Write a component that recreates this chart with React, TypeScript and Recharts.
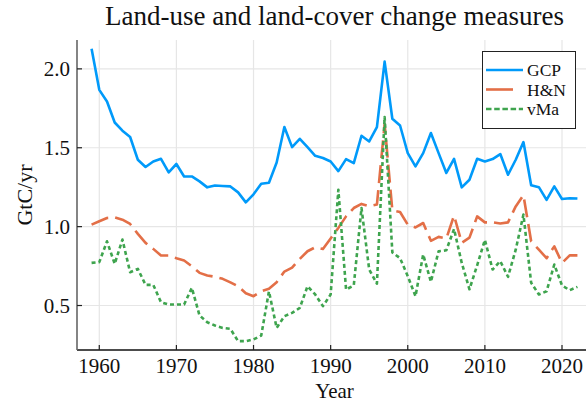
import { CartesianGrid, Label, Legend, Line, LineChart, XAxis, YAxis } from "recharts";

const years = [
  1959, 1960, 1961, 1962, 1963, 1964, 1965, 1966, 1967, 1968, 1969, 1970, 1971, 1972, 1973, 1974,
  1975, 1976, 1977, 1978, 1979, 1980, 1981, 1982, 1983, 1984, 1985, 1986, 1987, 1988, 1989, 1990,
  1991, 1992, 1993, 1994, 1995, 1996, 1997, 1998, 1999, 2000, 2001, 2002, 2003, 2004, 2005, 2006,
  2007, 2008, 2009, 2010, 2011, 2012, 2013, 2014, 2015, 2016, 2017, 2018, 2019, 2020, 2021, 2022,
];

const gcp = [
  2.127, 1.867, 1.793, 1.66, 1.608, 1.568, 1.424, 1.378, 1.413, 1.43, 1.344, 1.397, 1.318, 1.318, 1.287, 1.249,
  1.261, 1.258, 1.255, 1.217, 1.154, 1.205, 1.272, 1.278, 1.407, 1.631, 1.504, 1.557, 1.504, 1.449, 1.435, 1.413,
  1.352, 1.428, 1.403, 1.576, 1.54, 1.631, 2.046, 1.684, 1.641, 1.466, 1.382, 1.466, 1.593, 1.466, 1.34, 1.43,
  1.249, 1.297, 1.43, 1.413, 1.428, 1.46, 1.329, 1.424, 1.536, 1.262, 1.25, 1.17, 1.255, 1.175, 1.18, 1.178,
];

const hn = [
  1.013, 1.034, 1.055, 1.059, 1.044, 1.017, 0.954, 0.897, 0.859, 0.817, 0.817, 0.8, 0.785, 0.749, 0.707, 0.69,
  0.682, 0.669, 0.647, 0.622, 0.578, 0.559, 0.59, 0.606, 0.648, 0.715, 0.74, 0.795, 0.844, 0.869, 0.858, 0.925,
  0.992, 1.065, 1.118, 1.144, 1.13, 1.14, 1.65, 1.103, 1.093, 1.013, 0.995, 1.023, 0.91, 0.935, 0.925, 1.07,
  0.897, 0.93, 1.065, 1.027, 1.027, 1.02, 1.027, 1.128, 1.2, 0.907, 0.854, 0.8, 0.875, 0.77, 0.818, 0.818,
];

const vma = [
  0.77, 0.775, 0.907, 0.764, 0.918, 0.711, 0.732, 0.631, 0.631, 0.521, 0.506, 0.506, 0.506, 0.612, 0.437, 0.394,
  0.373, 0.358, 0.352, 0.274, 0.274, 0.285, 0.31, 0.59, 0.358, 0.432, 0.453, 0.485, 0.622, 0.57, 0.496, 0.57,
  1.234, 0.601, 0.627, 1.118, 0.728, 0.639, 1.695, 0.837, 0.8, 0.686, 0.559, 0.823, 0.65, 0.844, 0.85, 0.985,
  0.77, 0.603, 0.755, 0.916, 0.728, 0.781, 0.682, 0.854, 1.076, 0.644, 0.57, 0.59, 0.76, 0.627, 0.597, 0.618,
];

const xTicks = [1960, 1970, 1980, 1990, 2000, 2010, 2020];
const yTicks = [0.5, 1.0, 1.5, 2.0];

const data = years.map((year, i) => ({ year, GCP: gcp[i], "H&N": hn[i], vMa: vma[i] }));

const FONT = "'Liberation Serif', 'DejaVu Serif', serif";
const BLUE = "#009AFA";
const ORANGE = "#E36F47";
const GREEN = "#3EA44E";

// ticks point into the plot, labels sit outside
function XTick(props: any) {
  const { x, y, payload } = props;
  return (
    <g>
      <line x1={x} x2={x} y1={y} y2={y - 5} stroke="#222" strokeWidth={1.2} />
      <text x={x} y={y + 23} textAnchor="middle" fontFamily={FONT} fontSize={21} fill="#111">
        {payload.value}
      </text>
    </g>
  );
}

function YTick(props: any) {
  const { x, y, payload } = props;
  return (
    <g>
      <line x1={x} x2={x + 5} y1={y} y2={y} stroke="#222" strokeWidth={1.2} />
      <text x={x - 7} y={y + 7} textAnchor="end" fontFamily={FONT} fontSize={21} fill="#111">
        {Number(payload.value).toFixed(1)}
      </text>
    </g>
  );
}

function LegendBox() {
  const rows = [
    { name: "GCP", color: BLUE, dash: undefined, end: 41 },
    { name: "H&N", color: ORANGE, dash: undefined, end: 31 },
    { name: "vMa", color: GREEN, dash: "5.5 2.7", end: 41 },
  ];
  return (
    <svg width={94} height={78} style={{ display: "block" }}>
      <rect x={0.5} y={0.5} width={93} height={77} fill="#fff" stroke="#222" strokeWidth={1} />
      {rows.map((r, i) => (
        <g key={r.name}>
          <line x1={4} x2={r.end} y1={19 + i * 19.5} y2={19 + i * 19.5} stroke={r.color} strokeWidth={2.6} strokeDasharray={r.dash} />
          <text x={45} y={25 + i * 19.5} fontFamily={FONT} fontSize={17.5} fill="#111">
            {r.name}
          </text>
        </g>
      ))}
    </svg>
  );
}

export default function App() {
  return (
    <div style={{ position: "absolute", left: 0, top: 0, width: 586, height: 403, overflow: "hidden", background: "#fff" }}>
      <div
        style={{
          position: "absolute",
          left: 77,
          width: 515,
          top: 1,
          textAlign: "center",
          fontFamily: FONT,
          fontSize: 27,
          color: "#111",
          whiteSpace: "nowrap",
        }}
      >
        Land-use and land-cover change measures
      </div>
      <LineChart width={592} height={403} data={data} margin={{ top: 40, right: 0, bottom: 0, left: 0 }}>
        <CartesianGrid stroke="#e6e6e6" strokeWidth={1.2} verticalValues={xTicks} horizontalValues={yTicks} />
        <XAxis
          dataKey="year"
          type="number"
          domain={[1957.11, 2023.89]}
          allowDataOverflow
          ticks={xTicks}
          height={53}
          tickSize={0}
          tickMargin={0}
          tickLine={false}
          tick={<XTick />}
          stroke="#111"
          strokeWidth={1.6}
        >
          <Label
            content={(p: any) => {
              const vb = p.viewBox;
              return (
                <text x={vb.x + vb.width / 2} y={vb.y + vb.height - 5} textAnchor="middle" fontFamily={FONT} fontSize={21} fill="#111">
                  Year
                </text>
              );
            }}
          />
        </XAxis>
        <YAxis
          type="number"
          domain={[0.218, 2.183]}
          allowDataOverflow
          ticks={yTicks}
          width={77}
          tickSize={0}
          tickMargin={0}
          tickLine={false}
          tick={<YTick />}
          stroke="#666"
          strokeWidth={1.6}
        >
          <Label
            content={(p: any) => {
              const vb = p.viewBox;
              const cx = 24;
              const cy = vb.y + vb.height / 2;
              return (
                <text x={cx} y={cy} transform={`rotate(-90 ${cx} ${cy})`} textAnchor="middle" dominantBaseline="central" fontFamily={FONT} fontSize={22} fill="#111">
                  GtC/yr
                </text>
              );
            }}
          />
        </YAxis>
        <Legend
          layout="vertical"
          align="center"
          verticalAlign="middle"
          wrapperStyle={{ position: "absolute", left: 482, top: 51, width: 94, height: 78 }}
          content={() => <LegendBox />}
        />
        <Line dataKey="GCP" stroke={BLUE} strokeWidth={2.6} dot={false} isAnimationActive={false} strokeLinejoin="round" />
        <Line dataKey="H&N" stroke={ORANGE} strokeWidth={2.6} strokeDasharray="18 7" dot={false} isAnimationActive={false} strokeLinejoin="round" />
        <Line dataKey="vMa" stroke={GREEN} strokeWidth={2.6} strokeDasharray="4 3" dot={false} isAnimationActive={false} strokeLinejoin="round" />
      </LineChart>
    </div>
  );
}
